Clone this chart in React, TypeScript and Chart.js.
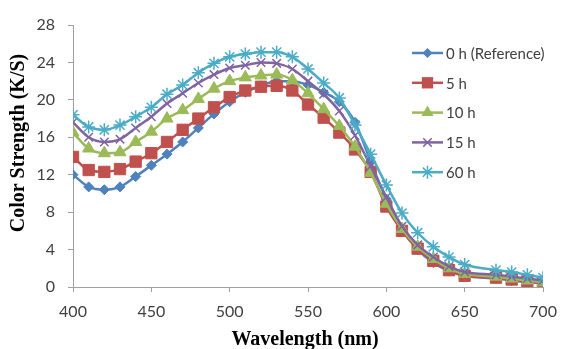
import React, { useEffect, useRef } from "react";
import { Chart, registerables } from "chart.js";

Chart.register(...registerables);

const wavelengths = [400, 410, 420, 430, 440, 450, 460, 470, 480, 490, 500, 510, 520, 530, 540, 550, 560, 570, 580, 590, 600, 610, 620, 630, 640, 650, 670, 680, 690, 700];

const h0 = [12.0, 10.7, 10.4, 10.7, 11.8, 13.0, 14.2, 15.5, 17.0, 18.5, 19.8, 20.8, 21.5, 22.0, 22.0, 21.6, 20.8, 19.8, 17.6, 13.4, 9.4, 6.2, 4.0, 2.6, 1.7, 1.2, 0.9, 0.7, 0.5, 0.4];
const h5 = [13.9, 12.5, 12.3, 12.6, 13.4, 14.3, 15.5, 16.8, 18.0, 19.2, 20.3, 21.0, 21.4, 21.5, 21.0, 19.5, 18.1, 16.5, 14.7, 12.3, 8.6, 6.0, 4.1, 2.8, 1.8, 1.2, 1.0, 0.8, 0.6, 0.4];
const h10 = [16.5, 14.8, 14.3, 14.4, 15.5, 16.6, 18.0, 18.9, 20.1, 21.2, 22.0, 22.4, 22.6, 22.7, 22.1, 20.7, 19.0, 17.2, 15.0, 12.2, 8.9, 6.2, 4.3, 3.0, 2.0, 1.4, 1.1, 0.9, 0.7, 0.5];
const h15 = [17.6, 16.0, 15.5, 15.8, 17.0, 18.2, 19.6, 20.7, 21.8, 22.7, 23.4, 23.7, 24.0, 23.9, 23.3, 22.0, 20.6, 18.8, 16.2, 12.9, 9.6, 6.5, 4.5, 3.2, 2.2, 1.6, 1.3, 1.1, 0.9, 0.7];
const h60 = [18.4, 17.1, 16.8, 17.3, 18.2, 19.2, 20.6, 21.6, 22.9, 23.9, 24.6, 24.9, 25.1, 25.1, 24.6, 23.3, 21.8, 20.2, 17.3, 14.2, 10.9, 7.9, 5.8, 4.3, 3.2, 2.4, 1.8, 1.6, 1.3, 1.0];

const seriesLabels = ["0 h (Reference)", "5 h", "10 h", "15 h", "60 h"];
const seriesValues = [h0, h5, h10, h15, h60];
const seriesColors = ["#4F81BD", "#C0504D", "#9BBB59", "#8064A2", "#4BACC6"];
const seriesPointStyles = ["rectRot", "rect", "triangle", "crossRot", "star"];
const seriesPointRadius = [5, 8, 7, 6, 6.5];

const xTitle = "Wavelength (nm)";
const yTitle = "Color Strength (K/S)";

function drawMarker(ctx: CanvasRenderingContext2D, style: string, x: number, y: number, r: number, color: string) {
  ctx.save();
  ctx.fillStyle = color;
  ctx.strokeStyle = color;
  ctx.lineWidth = 1.5;
  ctx.beginPath();
  if (style === "rectRot") {
    ctx.moveTo(x, y - r);
    ctx.lineTo(x + r, y);
    ctx.lineTo(x, y + r);
    ctx.lineTo(x - r, y);
    ctx.closePath();
    ctx.fill();
  } else if (style === "rect") {
    const s = r * Math.SQRT1_2;
    ctx.rect(x - s, y - s, 2 * s, 2 * s);
    ctx.fill();
  } else if (style === "triangle") {
    ctx.moveTo(x, y - r);
    ctx.lineTo(x + Math.sin((2 * Math.PI) / 3) * r, y + r / 2);
    ctx.lineTo(x - Math.sin((2 * Math.PI) / 3) * r, y + r / 2);
    ctx.closePath();
    ctx.fill();
  } else if (style === "crossRot") {
    const d = r * Math.SQRT1_2;
    ctx.moveTo(x - d, y - d);
    ctx.lineTo(x + d, y + d);
    ctx.moveTo(x + d, y - d);
    ctx.lineTo(x - d, y + d);
    ctx.stroke();
  } else if (style === "star") {
    const d = r * Math.SQRT1_2;
    ctx.moveTo(x - d, y - d);
    ctx.lineTo(x + d, y + d);
    ctx.moveTo(x + d, y - d);
    ctx.lineTo(x - d, y + d);
    ctx.moveTo(x, y - r);
    ctx.lineTo(x, y + r);
    ctx.moveTo(x - r, y);
    ctx.lineTo(x + r, y);
    ctx.stroke();
  }
  ctx.restore();
}

const overlayPlugin = {
  id: "overlay",
  afterDraw(chart: any) {
    const ctx: CanvasRenderingContext2D = chart.ctx;
    ctx.save();
    // axis titles
    ctx.fillStyle = "#000000";
    ctx.font = "bold 20px 'Liberation Serif', 'Times New Roman', serif";
    ctx.textAlign = "center";
    ctx.textBaseline = "middle";
    ctx.save();
    ctx.translate(19, 143);
    ctx.rotate(-Math.PI / 2);
    ctx.fillText(yTitle, 0, 0);
    ctx.restore();
    ctx.font = "bold 20px 'Liberation Serif', 'Times New Roman', serif";
    ctx.fillText(xTitle, 305, 340);

    // legend
    const x0 = 412;
    const x1 = 443;
    const rowY0 = 53;
    const rowStep = 29.8;
    ctx.font = "15px Lato, 'Open Sans', sans-serif";
    ctx.textAlign = "left";
    ctx.textBaseline = "middle";
    seriesLabels.forEach((label, i) => {
      const y = rowY0 + i * rowStep;
      ctx.strokeStyle = seriesColors[i];
      ctx.lineWidth = 2.5;
      ctx.beginPath();
      ctx.moveTo(x0, y);
      ctx.lineTo(x1, y);
      ctx.stroke();
      drawMarker(ctx, seriesPointStyles[i], (x0 + x1) / 2, y, seriesPointRadius[i], seriesColors[i]);
      ctx.fillStyle = "#404040";
      ctx.fillText(label, 446, y + 1);
    });
    ctx.restore();
  },
};

export default function App() {
  const canvasRef = useRef<HTMLCanvasElement | null>(null);

  useEffect(() => {
    if (!canvasRef.current) return;
    const datasets = seriesLabels.map((label, i) => ({
      label,
      data: wavelengths.map((w, j) => ({ x: w, y: seriesValues[i][j] })),
      borderColor: seriesColors[i],
      backgroundColor: seriesColors[i],
      pointBackgroundColor: seriesColors[i],
      pointBorderColor: seriesColors[i],
      pointStyle: seriesPointStyles[i],
      pointRadius: seriesPointRadius[i],
      pointBorderWidth: i >= 3 ? 1.5 : 1,
      borderWidth: 2.5,
      tension: 0.4,
      cubicInterpolationMode: "monotone" as const,
      fill: false,
      order: 5 - i,
    }));

    const chart = new Chart(canvasRef.current, {
      type: "line",
      data: { datasets },
      plugins: [overlayPlugin],
      options: {
        animation: false,
        responsive: false,
        devicePixelRatio: 1,
        layout: { padding: { top: 25, right: 18, bottom: 0, left: 0 } },
        plugins: {
          legend: { display: false },
          tooltip: { enabled: false },
          title: { display: false },
        },
        scales: {
          x: {
            type: "linear",
            min: 400,
            max: 700,
            ticks: {
              stepSize: 50,
              color: "#404040",
              font: { family: "Lato, 'Open Sans', sans-serif", size: 16 },
              padding: 10,
              maxRotation: 0,
            },
            grid: { drawOnChartArea: false, drawTicks: true, tickLength: 5, color: "#A0A0A0" },
            border: { display: true, color: "#A0A0A0", width: 1 },
            afterFit: (scale: any) => {
              scale.height = 62;
              scale.paddingLeft = 0;
              scale.paddingRight = 0;
            },
          },
          y: {
            min: 0,
            max: 28,
            ticks: {
              stepSize: 4,
              color: "#404040",
              font: { family: "Lato, 'Open Sans', sans-serif", size: 16 },
              padding: 13,
            },
            grid: { drawOnChartArea: false, drawTicks: true, tickLength: 5, color: "#A0A0A0" },
            border: { display: true, color: "#A0A0A0", width: 1 },
            afterFit: (scale: any) => {
              scale.width = 73;
              scale.paddingTop = 0;
              scale.paddingBottom = 0;
            },
          },
        },
      },
    });
    return () => chart.destroy();
  }, []);

  return (
    <div style={{ position: "absolute", left: 0, top: 0, width: 561, height: 349, background: "#ffffff" }}>
      <canvas ref={canvasRef} width={561} height={349} />
    </div>
  );
}
